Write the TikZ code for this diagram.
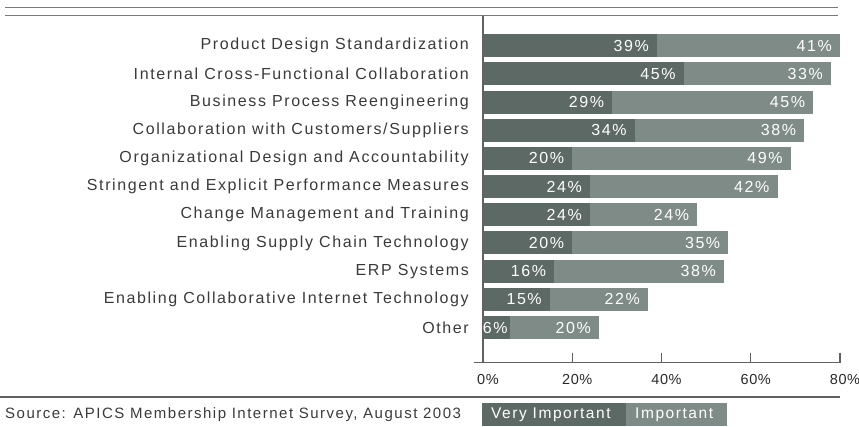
\documentclass[tikz,border=0pt]{standalone}
\usepackage{fontspec}
\setmainfont{Liberation Sans}[LetterSpace=10]
\newfontfamily\tickfont{Liberation Sans}[LetterSpace=4]
\definecolor{veryimp}{RGB}{93,105,101}
\definecolor{imp}{RGB}{126,139,134}
\definecolor{txtgray}{RGB}{58,58,58}
\definecolor{rulegray}{RGB}{120,120,120}
\begin{document}
\begin{tikzpicture}[x=1pt,y=-1pt,font=\fontsize{16}{18}\selectfont,line cap=butt,
	lbl/.style={anchor=east,text=txtgray,inner sep=0pt},
	val/.style={anchor=east,text=white,inner sep=0pt},
	tick/.style={anchor=north,text=txtgray!70!black,inner sep=0pt,font=\tickfont\fontsize{14.5}{16}\selectfont}]
	\useasboundingbox (0,0) rectangle (859,426);
	\def\xo{483} \def\u{4.4625}
	\def\ytop{45.7} \def\dy{28.18} \def\hb{11.5}
	
	% double rule on top
	\draw[rulegray,line width=1.6] (5,7.5)--(838,7.5) (5,15.5)--(838,15.5);
	
	% axes
	\draw[rulegray!80!black,line width=1.2] (\xo,15.5)--(\xo,362.7);
	\draw[rulegray!80!black,line width=1.2] (474,362.7)--(840,362.7);
	\foreach \p in {20,40,60,80}
	\draw[rulegray!80!black,line width=1.2] (\xo+\u*\p,352.7)--(\xo+\u*\p,362.7);
	\foreach \p in {0,20,40,60,80}
	\node[tick] (t\p) at (\xo+\u*\p+5,374.5) {\p\%};
	\draw[rulegray!80!black,line width=1.2] (0,397)--(840,397);
	
	% bars
	\foreach \i/\lab/\va/\vb in {0/Product Design Standardization/39/41,
		1/Internal Cross-Functional Collaboration/45/33,
		2/Business Process Reengineering/29/45,
		3/{Collaboration with Customers/Suppliers}/34/38,
		4/Organizational Design and Accountability/20/49,
		5/Stringent and Explicit Performance Measures/24/42,
		6/Change Management and Training/24/24,
		7/Enabling Supply Chain Technology/20/35,
		8/ERP Systems/16/38,
		9/Enabling Collaborative Internet Technology/15/22,
		10/Other/6/20}
	{
		\pgfmathsetmacro\yc{\ytop+\dy*\i}
		\pgfmathsetmacro\pad{\va<10 ? 2 : 8}
		\fill[veryimp] (\xo,\yc-\hb) rectangle (\xo+\u*\va,\yc+\hb);
		\fill[imp] (\xo+\u*\va,\yc-\hb) rectangle (\xo+\u*\va+\u*\vb,\yc+\hb);
		\node[lbl] (lab\i) at (469,\yc) {\lab};
		\node[val] (va\i) at (\xo+\u*\va-\pad,\yc) {\va\%};
		\node[val] (vb\i) at (\xo+\u*\va+\u*\vb-8,\yc) {\vb\%};
	}
	
	% source and legend
	\node[anchor=west,text=txtgray,inner sep=0pt,font=\fontsize{15}{17}\selectfont] (src) at (5,414.5) {Source: APICS Membership Internet Survey, August 2003};
	\fill[veryimp] (482,403) rectangle (626,426);
	\fill[imp] (626,403) rectangle (727,426);
	\node[anchor=west,text=white,inner sep=0pt,font=\fontsize{15.5}{17}\selectfont] (lv) at (491,414.5) {Very Important};
	\node[anchor=west,text=white,inner sep=0pt,font=\fontsize{15.5}{17}\selectfont] (li) at (635,414.5) {Important};
\end{tikzpicture}
\end{document}
